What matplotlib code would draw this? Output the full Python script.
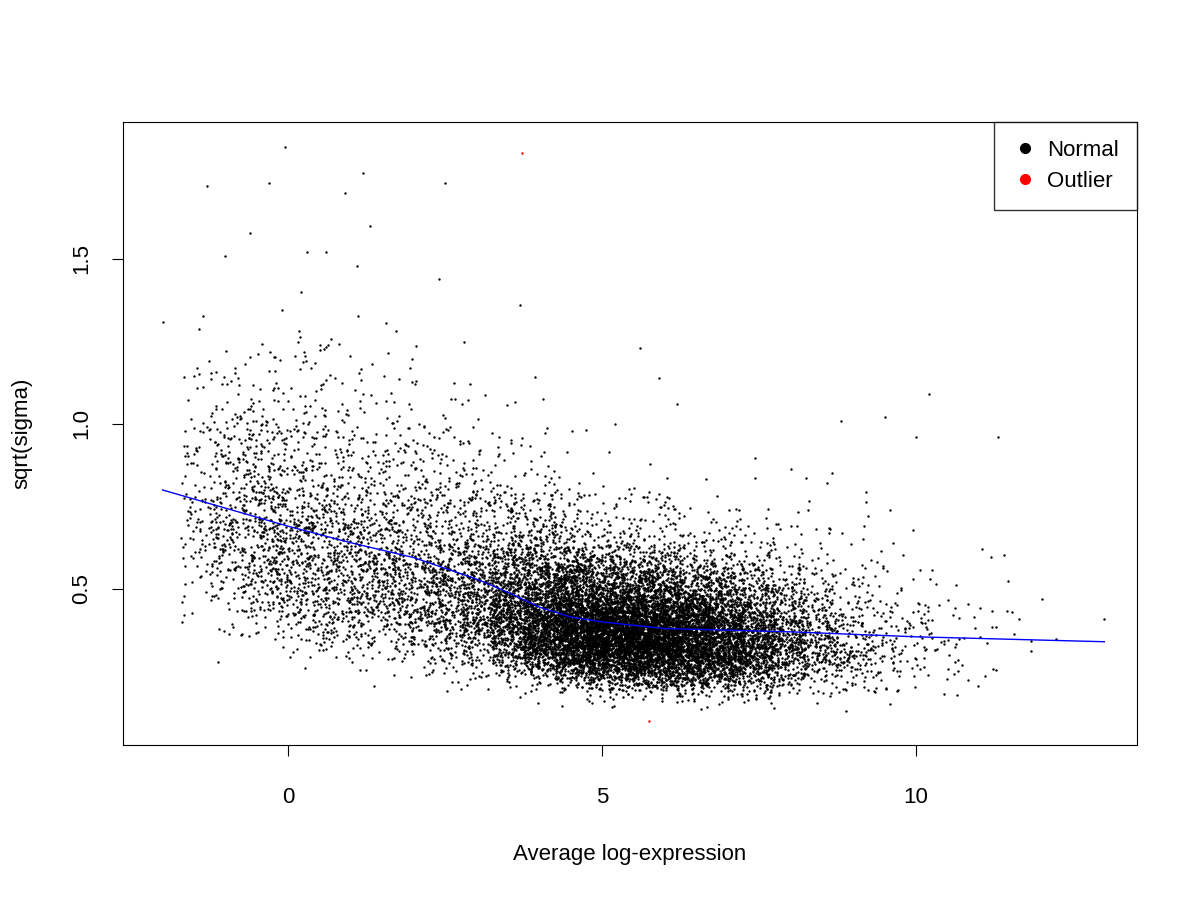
import numpy as np
import matplotlib
matplotlib.use("Agg")
import matplotlib.pyplot as plt
from matplotlib.lines import Line2D

plt.rcParams['font.family'] = ['Liberation Sans', 'DejaVu Sans']

# dense cloud summarised per x-bin: centre, count, median, spread
bin_x = [-1.5, -1.0, -0.5, 0.0, 0.5, 1.0, 1.5, 2.0, 2.5, 3.0, 3.5, 4.0, 4.5, 5.0, 5.5,
         6.0, 6.5, 7.0, 7.5, 8.0, 8.5, 9.0, 9.5, 10.0, 10.5, 11.0, 11.5, 12.0]
bin_n = [110, 240, 330, 380, 380, 370, 370, 390, 450, 560, 850, 1250, 1600, 1800, 1850,
         1700, 1400, 1100, 780, 460, 280, 160, 95, 55, 30, 15, 8, 3]
bin_med = [0.74, 0.71, 0.68, 0.66, 0.63, 0.61, 0.58, 0.55, 0.52, 0.49, 0.45, 0.42, 0.40, 0.38, 0.37,
           0.37, 0.36, 0.36, 0.36, 0.36, 0.36, 0.35, 0.35, 0.35, 0.35, 0.34, 0.34, 0.34]
bin_sd = [0.2, 0.2, 0.2, 0.2, 0.2, 0.19, 0.18, 0.17, 0.16, 0.15, 0.13, 0.12, 0.11, 0.10, 0.10,
          0.10, 0.10, 0.10, 0.10, 0.10, 0.10, 0.10, 0.10, 0.09, 0.09, 0.08, 0.07, 0.07]

# sparse high points visible in the picture
sparse_x = [-0.05, -1.3, 1.2, 2.5, 0.9, -0.6, -0.3, -1.0, 1.3, 0.3, 0.6, 2.4, -2.0, 3.7,
            0.2, 1.1, 5.6, 5.9, 6.2, 10.2, 11.3, 8.8, 9.5, 10.0, 12.0, 13.0]
sparse_y = [1.84, 1.72, 1.76, 1.73, 1.70, 1.58, 1.73, 1.51, 1.60, 1.52, 1.52, 1.44, 1.31, 1.36,
            1.40, 1.48, 1.23, 1.14, 1.06, 1.09, 0.96, 1.01, 1.02, 0.96, 0.47, 0.41]

outlier_x = [3.72, 5.75]
outlier_y = [1.82, 0.10]

lowess_x = [-2.0, -1.0, 0.0, 1.0, 2.0, 3.0, 3.5, 4.0, 4.5, 5.0, 6.0, 7.0, 8.0, 10.0, 13.0]
lowess_y = [0.80, 0.745, 0.69, 0.64, 0.595, 0.53, 0.49, 0.445, 0.415, 0.40, 0.38, 0.375, 0.37, 0.355, 0.34]

rng = np.random.default_rng(3)
xs, ys = [], []
for cx, n, med, sd in zip(bin_x, bin_n, bin_med, bin_sd):
    xs.append(cx + rng.uniform(-0.25, 0.25, n))
    ys.append(med * np.exp(rng.normal(0, sd / med, n)))
xs = np.concatenate(xs); ys = np.concatenate(ys)
keep = (xs > -1.7) & (ys > 0.12) & (ys < 1.35)
xs, ys = xs[keep], ys[keep]

fig = plt.figure(figsize=(12, 9), dpi=100)
ax = fig.add_axes([0.1025, 0.1722, 0.845, 0.6922])
ax.scatter(xs, ys, s=3, c='black', linewidths=0)
ax.scatter(sparse_x, sparse_y, s=3, c='black', linewidths=0)
ax.scatter(outlier_x, outlier_y, s=3, c='red', linewidths=0)
ax.plot(lowess_x, lowess_y, color='blue', lw=1)

ax.set_xlim(-2.63, 13.52)
ax.set_ylim(0.027, 1.915)
ax.set_xticks([0, 5, 10])
ax.set_yticks([0.5, 1.0, 1.5])
ax.set_yticklabels(['0.5', '1.0', '1.5'], rotation=90, va='center')
ax.tick_params(labelsize=16, length=8)
ax.tick_params(axis='x', pad=22)
ax.tick_params(axis='y', pad=14)
ax.set_xlabel('Average log-expression', fontsize=16, labelpad=26)
ax.set_ylabel('sqrt(sigma)', fontsize=16, labelpad=28)

handles = [Line2D([], [], marker='o', color='black', ls='', markersize=7),
           Line2D([], [], marker='o', color='red', ls='', markersize=7)]
leg = ax.legend(handles, ['Normal', 'Outlier'], loc='upper right', fontsize=16,
                frameon=True, fancybox=False, borderaxespad=0, handletextpad=0.4,
                borderpad=0.8, labelspacing=0.45, handlelength=1.2)
leg.get_frame().set_edgecolor('black')
leg.get_frame().set_linewidth(1)

fig.savefig('out.png')
